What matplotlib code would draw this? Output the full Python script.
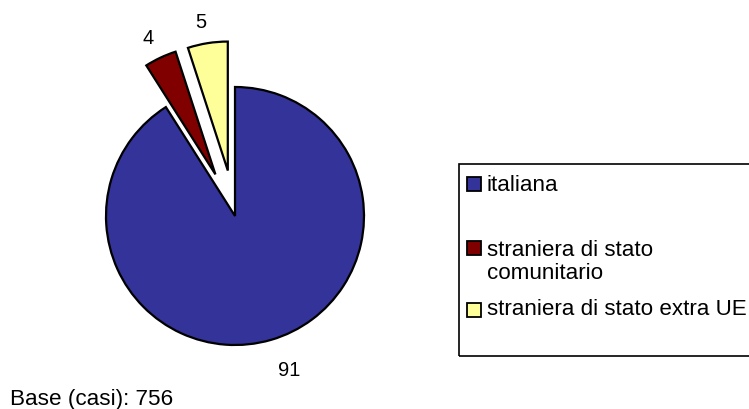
import numpy as np
import matplotlib.pyplot as plt
from matplotlib.patches import Rectangle

plt.rcParams['font.family'] = ['Liberation Sans', 'DejaVu Sans']

# dati
categorie = ["italiana", "straniera di stato\ncomunitario", "straniera di stato extra UE"]
valori = [91, 4, 5]
colori = ["#333399", "#800000", "#FFFF99"]
esplosione = [0, 46, 46]
nota = "Base (casi): 756"

W, H = 749, 410
fig = plt.figure(figsize=(W / 100, H / 100), dpi=100)
ax = fig.add_axes([0, 0, 1, 1])

# torta (coordinate in pixel, y verso l'alto)
cx, cy, r = 235, H - 217, 129
wedges, testi = ax.pie(valori, colors=colori, labels=[str(v) for v in valori],
                       startangle=90, counterclock=False, explode=esplosione,
                       center=(cx, cy), radius=r,
                       wedgeprops=dict(edgecolor="black", linewidth=1.6),
                       textprops=dict(fontsize=14.5, color="black"))

# etichette centrate attorno alla fetta
distanze = [1.24, 1.17, 1.17]
for w, t, d in zip(wedges, testi, distanze):
    th = np.deg2rad((w.theta1 + w.theta2) / 2)
    x0, y0 = w.center
    t.set_position((x0 + d * r * np.cos(th) + (10 if d > 1.2 else -3), y0 + d * r * np.sin(th)))
    t.set_ha("center")
    t.set_va("center")

ax.set_xlim(0, W)
ax.set_ylim(0, H)
ax.set_aspect("auto")
ax.axis("off")

# legenda disegnata a mano
ax.add_patch(Rectangle((459, H - 357), 320, 192, fill=False, edgecolor="black", linewidth=1.2))
pos_y = [186, 262, 310]
quad_y = [185, 249, 311]
for lab, col, yt, yq in zip(categorie, colori, pos_y, quad_y):
    ax.add_patch(Rectangle((467, H - yq - 7), 14, 14, facecolor=col, edgecolor="black", linewidth=1.3))
    ax.text(487, H - yt, lab, fontsize=16.1, va="center", ha="left", linespacing=1.12)

ax.text(10, H - 400, nota, fontsize=16.2, va="center", ha="left")

plt.savefig("out.png", dpi=100)
